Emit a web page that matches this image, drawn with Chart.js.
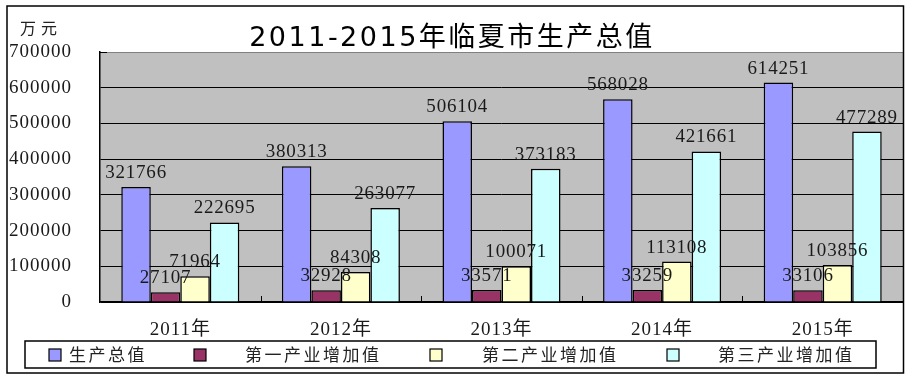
<!DOCTYPE html>
<html>
<head>
<meta charset="utf-8">
<script src="https://cdn.jsdelivr.net/npm/chart.js@4.4.0/dist/chart.umd.min.js"></script>
<style>
  html, body { margin: 0; padding: 0; background: #fff; }
  #wrap { width: 912px; height: 380px; }
</style>
</head>
<body>
<div id="wrap"><canvas id="gdpChart" width="912" height="380"></canvas></div>
<script>
// 数据（万元）
const years = ["2011年", "2012年", "2013年", "2014年", "2015年"];
const totalGdp = [321766, 380313, 506104, 568028, 614251];
const primaryInd = [27107, 32928, 33571, 33259, 33106];
const secondaryInd = [71964, 84308, 100071, 113108, 103856];
const tertiaryInd = [222695, 263077, 373183, 421661, 477289];
const yTicks = [0, 100000, 200000, 300000, 400000, 500000, 600000, 700000];

const seriesNames = ["生产总值", "第一产业增加值", "第二产业增加值", "第三产业增加值"];
const seriesColors = ["#9999FF", "#993366", "#FFFFCC", "#CCFFFF"];

const serifFont = "'Liberation Serif', 'Noto Sans CJK SC', serif";

const framePlugin = {
  id: "framePlugin",
  beforeDraw(chart) {
    const { ctx, chartArea } = chart;
    ctx.save();
    ctx.fillStyle = "#fff";
    ctx.fillRect(0, 0, chart.width, chart.height);
    ctx.fillStyle = "#C0C0C0";
    ctx.fillRect(chartArea.left, chartArea.top, chartArea.right - chartArea.left, chartArea.bottom - chartArea.top);
    ctx.restore();
    // tick labels a bit wider, like the original
    ctx.letterSpacing = "1px";
  },
  afterDatasetsDraw(chart) {
    const { ctx } = chart;
    ctx.save();
    ctx.font = "19px " + serifFont;
    ctx.letterSpacing = "0.8px";
    ctx.fillStyle = "#1a1a1a";
    ctx.textAlign = "center";
    ctx.textBaseline = "alphabetic";
    chart.data.datasets.forEach((ds, i) => {
      const meta = chart.getDatasetMeta(i);
      meta.data.forEach((bar, j) => {
        ctx.fillText(String(ds.data[j]), bar.x, bar.y - 9);
      });
    });
    ctx.restore();
  },
  afterDraw(chart) {
    const { ctx, chartArea } = chart;
    const xs = chart.scales.x;
    ctx.save();
    ctx.letterSpacing = "0px";

    // small inward ticks between categories
    ctx.strokeStyle = "#000";
    ctx.lineWidth = 1;
    ctx.beginPath();
    for (let i = 0; i < years.length - 1; i++) {
      const bx = Math.round((xs.getPixelForTick(i) + xs.getPixelForTick(i + 1)) / 2) + 0.5;
      ctx.moveTo(bx, chartArea.bottom);
      ctx.lineTo(bx, chartArea.bottom - 6);
    }
    ctx.moveTo(chartArea.left, chartArea.top + 0.5);
    ctx.lineTo(chartArea.left + 7, chartArea.top + 0.5);
    ctx.stroke();

    // outer frame
    ctx.lineWidth = 1.5;
    ctx.strokeRect(7, 6, 896.5, 367);

    // title
    ctx.fillStyle = "#000";
    ctx.font = "27px 'DejaVu Sans', 'Noto Sans CJK SC', sans-serif";
    ctx.letterSpacing = "2.5px";
    ctx.textAlign = "center";
    ctx.textBaseline = "middle";
    ctx.fillText("2011-2015年临夏市生产总值", 452, 39);

    // unit
    ctx.font = "16px 'Noto Sans CJK SC', serif";
    ctx.letterSpacing = "5px";
    ctx.textAlign = "left";
    ctx.fillStyle = "#222";
    ctx.fillText("万元", 20, 28);

    // legend
    ctx.letterSpacing = "0px";
    ctx.lineWidth = 1.5;
    ctx.strokeStyle = "#000";
    ctx.fillStyle = "#fff";
    ctx.fillRect(25, 341, 851, 27);
    ctx.strokeRect(25, 341, 851, 27);
    const markX = [49, 194, 430, 667];
    const textX = [69, 245, 482, 718];
    ctx.font = "17px 'Noto Sans CJK SC', sans-serif";
    ctx.letterSpacing = "2.5px";
    ctx.textBaseline = "middle";
    chart.data.datasets.forEach((ds, i) => {
      ctx.fillStyle = ds.backgroundColor;
      ctx.fillRect(markX[i], 349, 12, 12);
      ctx.lineWidth = 1.2;
      ctx.strokeRect(markX[i], 349, 12, 12);
      ctx.fillStyle = "#222";
      ctx.fillText(ds.label, textX[i], 355);
    });
    ctx.restore();
  }
};

const ctx = document.getElementById("gdpChart");

const gdpChart = new Chart(ctx, {
  type: "bar",
  data: {
    labels: years,
    datasets: [
      { label: seriesNames[0], data: totalGdp, backgroundColor: seriesColors[0] },
      { label: seriesNames[1], data: primaryInd, backgroundColor: seriesColors[1] },
      { label: seriesNames[2], data: secondaryInd, backgroundColor: seriesColors[2] },
      { label: seriesNames[3], data: tertiaryInd, backgroundColor: seriesColors[3] },
    ],
  },
  options: {
    responsive: false,
    animation: false,
    devicePixelRatio: 1,
    layout: { padding: { top: 52, left: 0, right: 9, bottom: 42 } },
    datasets: {
      bar: {
        borderColor: "#000",
        borderWidth: 1.5,
        categoryPercentage: 0.735,
        barPercentage: 1,
      },
    },
    plugins: {
      legend: { display: false },
      title: { display: false },
      tooltip: { enabled: false },
    },
    scales: {
      x: {
        grid: { display: false },
        border: { display: true, color: "#000", width: 1.5 },
        ticks: {
          color: "#1a1a1a",
          font: { family: serifFont, size: 19 },
          padding: 9,
          maxRotation: 0,
        },
        afterFit: (scale) => { scale.height = 36; },
      },
      y: {
        min: 0,
        max: 700000,
        afterBuildTicks: (scale) => { scale.ticks = yTicks.map((v) => ({ value: v })); },
        grid: {
          drawTicks: false,
          color: (c) => (c.tick && c.tick.value === 700000 ? "#808080" : "#000"),
          lineWidth: 1,
        },
        border: { display: true, color: "#000", width: 1.5 },
        ticks: {
          color: "#1a1a1a",
          font: { family: serifFont, size: 19 },
          padding: 28,
          callback: (v) => String(v),
        },
        afterFit: (scale) => { scale.width = 100; },
      },
    },
  },
  plugins: [framePlugin],
});
</script>
</body>
</html>
